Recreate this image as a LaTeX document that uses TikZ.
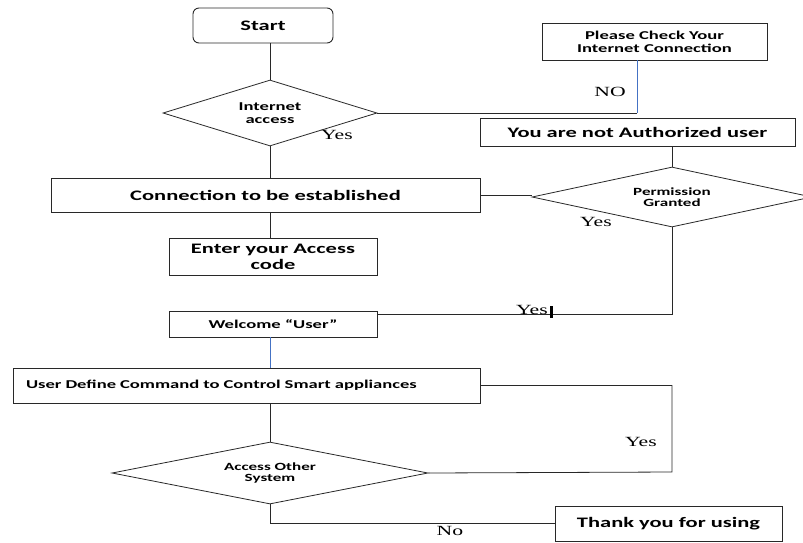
\documentclass[tikz,border=0pt]{standalone}
\usepackage{fontspec}
\usetikzlibrary{shapes.geometric}
\newfontfamily\bxfont[FakeStretch=1.55]{Carlito}
\newfontfamily\labfont[FakeStretch=1.55]{Liberation Serif}
\definecolor{blueln}{RGB}{68,114,196}
\definecolor{edge}{RGB}{40,40,40}
\begin{document}
\begin{tikzpicture}[x=1pt,y=-1pt,
  box/.style={draw=edge, line width=0.9pt, inner sep=0pt, align=center, rectangle},
  diam/.style={draw=edge, line width=0.8pt, diamond, shape aspect=4, inner sep=0pt, align=center},
  f145/.style={font={\bxfont\bfseries\fontsize{14.5}{16}\selectfont}},
  f12/.style={font={\bxfont\bfseries\fontsize{12}{13}\selectfont}},
  f11/.style={font={\bxfont\bfseries\fontsize{11}{11.5}\selectfont}},
  lbl/.style={font={\labfont\fontsize{14}{16}\selectfont}, inner sep=0pt},
  ln/.style={line width=0.8pt, draw=edge},
  bl/.style={line width=0.8pt, draw=blueln}]
\useasboundingbox (0,0) rectangle (803,542);
\fill[white] (0,0) rectangle (803,542);
\clip (0,0) rectangle (803,542);

\coordinate (sp) at (270,0);
\coordinate (c1) at (637,113);
\coordinate (c2) at (672,314);
\coordinate (c3) at (672,472);

\node[box, f145, rounded corners=6pt, minimum width=140, minimum height=35] (start) at (263,25.5) {Start};
\node[box, f12, minimum width=225, minimum height=37] (check) at (654.5,41.5) {Please Check Your\\Internet Connection};
\node[diam, f12, minimum width=214, minimum height=66] (ia) at (270,113) {Internet\\access};
\node[box, f145, minimum width=315, minimum height=28] (auth) at (637.5,132) {You are not Authorized user};
\node[box, f145, minimum width=429, minimum height=34] (conn) at (265.5,195) {Connection to be established};
\node[diam, f11, minimum width=280, minimum height=60] (perm) at (672,197) {Permission\\Granted};
\node[box, f145, minimum width=208, minimum height=37] (enter) at (273,256.5) {Enter your Access\\code};
\node[box, f12, minimum width=208, minimum height=26] (welcome) at (273,324) {Welcome “User”};
\node[box, f12, minimum width=467, minimum height=35, text width=441, align=left, inner xsep=13pt] (ud) at (246.5,385.5) {User Define Command to Control Smart appliances};
\node[diam, f11, minimum width=316, minimum height=62] (ao) at (270,473) {Access Other\\System};
\node[box, f145, minimum width=227, minimum height=35] (thank) at (668.5,523.5) {Thank you for using};

\draw[ln] (start.south -| sp) -- (ia.north);
\draw[ln] (ia.south) -- (conn.north -| sp);
\draw[ln] (ia.east) -- (c1);
\draw[bl] (c1) -- (c1 |- check.south);
\draw[ln] (auth.south -| perm.north) -- (perm.north);
\draw[ln] (conn.east) -- (conn.east -| perm.west);
\draw[ln] (conn.south -| sp) -- (enter.north -| sp);
\draw[ln] (perm.south) -- (c2) -- (c2 -| welcome.east);
\draw[bl] (welcome.south -| sp) -- (ud.north -| sp);
\draw[ln] (ud.south -| sp) -- (ao.north);
\draw[ln] (ud.east) -| (c3) -- (ao.east);
\draw[ln] (ao.south) |- (thank.west);

\node[lbl] (yes1) at (337,135) {Yes};
\node[lbl] (no1) at (610,92) {NO};
\node[lbl] (yes2) at (596,222) {Yes};
\node[lbl] (yes3) at (532,310) {Yes};
\fill[black] (549.5,306) rectangle (553,318);
\node[lbl] (yes4) at (641,442) {Yes};
\node[lbl] (no2) at (450,531) {No};
\end{tikzpicture}
\end{document}
